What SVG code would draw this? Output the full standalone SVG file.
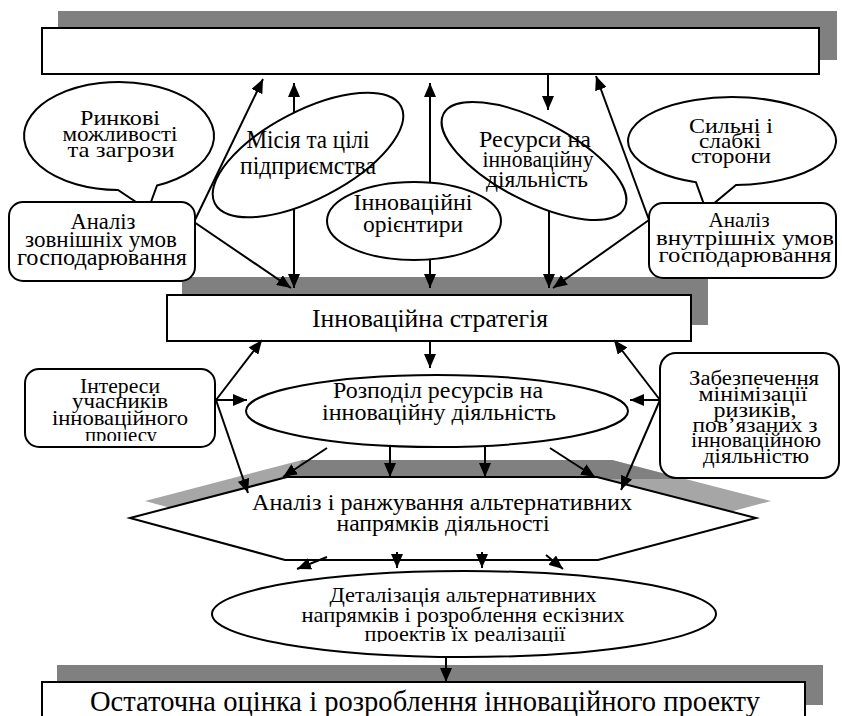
<svg xmlns="http://www.w3.org/2000/svg" width="842" height="716" viewBox="0 0 842 716">
<style>
.box{fill:#fff;stroke:#000;stroke-width:2}
.sh{fill:#808080;stroke:none}
.shl{fill:#a6a6a6;stroke:none}
.t{font-family:"Liberation Serif","DejaVu Serif","Times New Roman",serif;fill:#000;text-anchor:middle}
.c{stroke:#000;stroke-width:2;fill:none;marker-end:url(#ah)}
</style>
<defs>
<marker id="ah" markerUnits="userSpaceOnUse" viewBox="0 0 14 12" refX="14" refY="6" markerWidth="14" markerHeight="12" orient="auto"><path d="M0,0 L14,6 L0,12 z" fill="#000"/></marker>
<clipPath id="clipI"><rect x="0" y="350" width="300" height="91"/></clipPath>
<clipPath id="clipD"><rect x="200" y="570" width="530" height="72"/></clipPath>
</defs>

<g id="n-top">
<rect class="sh" x="58" y="11" width="779" height="49"/>
<rect class="box" x="42" y="28" width="777" height="46"/>
</g>
<g id="n-strat">
<rect class="sh" x="182" y="277" width="526" height="48"/>
<rect class="box" x="167" y="295" width="524" height="46"/>
<text class="t" x="430" y="327" font-size="25" textLength="236" lengthAdjust="spacingAndGlyphs">Інноваційна стратегія</text>
</g>
<g id="n-analiz">
<polygon class="shl" points="145,501 302,460 612,460 771,501 613,543 300,543"/>
<polygon class="sh" points="302,460 612,460 684,479 290,479"/>
<polygon class="box" points="130,518 287,477 597,477 756,518 598,560 285,560"/>
<text class="t" font-size="24" lengthAdjust="spacingAndGlyphs"><tspan x="442" y="510" textLength="380" lengthAdjust="spacingAndGlyphs">Аналіз і ранжування альтернативних</tspan><tspan x="443" y="531" textLength="213" lengthAdjust="spacingAndGlyphs">напрямків діяльності</tspan></text>
</g>
<g id="n-final">
<rect class="sh" x="57" y="665" width="766" height="40"/>
<rect class="box" x="42" y="682" width="763" height="50"/>
<text class="t" x="425" y="711" font-size="29" textLength="670" lengthAdjust="spacingAndGlyphs">Остаточна оцінка і розроблення інноваційного проекту</text>
</g>

<g id="connectors">
<path class="c" d="M194,222 L263,79"/>
<path class="c" d="M194,222 L291,288"/>
<path class="c" d="M294,155 L294,83"/>
<path class="c" d="M294,155 L294,288"/>
<path class="c" d="M430,221 L430,83"/>
<path class="c" d="M430,221 L430,288"/>
<path class="c" d="M548,75 L548,110"/>
<path class="c" d="M549,161 L549,288"/>
<path class="c" d="M649,220 L596,76"/>
<path class="c" d="M649,220 L553,288"/>
<path class="c" d="M430,342 L430,368"/>
<path class="c" d="M216,400 L262,340"/>
<path class="c" d="M216,400 L247,400"/>
<path class="c" d="M216,400 L248,493"/>
<path class="c" d="M660,400 L614,340"/>
<path class="c" d="M660,400 L630,400"/>
<path class="c" d="M660,400 L621,490"/>
<path class="c" d="M327,448 L283,477"/>
<path class="c" d="M390,447 L390,477"/>
<path class="c" d="M485,447 L485,477"/>
<path class="c" d="M550,448 L595,477"/>
<path class="c" d="M327,557 L297,569"/>
<path class="c" d="M397,552 L397,568"/>
<path class="c" d="M482,552 L482,568"/>
<path class="c" d="M546,555 L563,569"/>
<path class="c" d="M446,657 L446,682"/>
</g>

<g id="n-rynkovi">
<path class="box" d="M118,190 A95,54 0 1 1 157,185.5 L148,210 Z"/>
<text class="t" font-size="22"><tspan x="120" y="125" textLength="80" lengthAdjust="spacingAndGlyphs">Ринкові</tspan><tspan x="120" y="141" textLength="115" lengthAdjust="spacingAndGlyphs">можливості</tspan><tspan x="121" y="157" textLength="107" lengthAdjust="spacingAndGlyphs">та загрози</tspan></text>
</g>
<g id="n-zovn">
<rect class="box" x="9" y="202" width="186" height="79" rx="14"/>
<text class="t" font-size="23"><tspan x="103" y="229" textLength="65" lengthAdjust="spacingAndGlyphs">Аналіз</tspan><tspan x="101" y="247" textLength="152" lengthAdjust="spacingAndGlyphs">зовнішніх умов</tspan><tspan x="102" y="265" textLength="170" lengthAdjust="spacingAndGlyphs">господарювання</tspan></text>
</g>
<g id="n-misia">
<ellipse class="box" cx="308" cy="155" rx="105" ry="44" transform="rotate(-27.5 308 155)"/>
<text class="t" font-size="25"><tspan x="308" y="148" textLength="123" lengthAdjust="spacingAndGlyphs">Місія та цілі</tspan><tspan x="308" y="174" textLength="136" lengthAdjust="spacingAndGlyphs">підприємства</tspan></text>
</g>
<g id="n-resursy">
<ellipse class="box" cx="534" cy="161" rx="102" ry="40" transform="rotate(27.5 534 161)"/>
<text class="t" font-size="23"><tspan x="535" y="147" textLength="112" lengthAdjust="spacingAndGlyphs">Ресурси на</tspan><tspan x="538" y="167" textLength="111" lengthAdjust="spacingAndGlyphs">інноваційну</tspan><tspan x="537" y="187" textLength="102" lengthAdjust="spacingAndGlyphs">діяльність</tspan></text>
</g>
<g id="n-orient">
<ellipse class="box" cx="414" cy="221" rx="87" ry="39"/>
<text class="t" font-size="24"><tspan x="413" y="210" textLength="119" lengthAdjust="spacingAndGlyphs">Інноваційні</tspan><tspan x="413" y="232" textLength="100" lengthAdjust="spacingAndGlyphs">орієнтири</tspan></text>
</g>
<g id="n-sylni">
<path class="box" d="M696,182.3 A104,44 0 1 1 736,185 L706,210 Z"/>
<text class="t" font-size="21"><tspan x="731" y="133" textLength="84" lengthAdjust="spacingAndGlyphs">Сильні і</tspan><tspan x="730" y="148" textLength="62" lengthAdjust="spacingAndGlyphs">слабкі</tspan><tspan x="731" y="163" textLength="80" lengthAdjust="spacingAndGlyphs">сторони</tspan></text>
</g>
<g id="n-vnutr">
<rect class="box" x="649" y="203" width="187" height="75" rx="14"/>
<text class="t" font-size="22"><tspan x="739" y="227" textLength="61" lengthAdjust="spacingAndGlyphs">Аналіз</tspan><tspan x="745" y="245" textLength="178" lengthAdjust="spacingAndGlyphs">внутрішніх умов</tspan><tspan x="745" y="262" textLength="173" lengthAdjust="spacingAndGlyphs">господарювання</tspan></text>
</g>
<g id="n-interesy">
<rect class="box" x="25" y="369" width="190" height="78" rx="14"/>
<g clip-path="url(#clipI)">
<text class="t" font-size="21"><tspan x="120" y="393" textLength="80" lengthAdjust="spacingAndGlyphs">Інтереси</tspan><tspan x="120" y="408" textLength="96" lengthAdjust="spacingAndGlyphs">учасників</tspan><tspan x="120" y="425" textLength="136" lengthAdjust="spacingAndGlyphs">інноваційного</tspan><tspan x="121" y="442" textLength="72" lengthAdjust="spacingAndGlyphs">процесу</tspan></text>
</g>
</g>
<g id="n-rozpodil">
<ellipse class="box" cx="437" cy="411" rx="191" ry="36"/>
<text class="t" font-size="24"><tspan x="438" y="398" textLength="210" lengthAdjust="spacingAndGlyphs">Розподіл ресурсів на</tspan><tspan x="439" y="420" textLength="234" lengthAdjust="spacingAndGlyphs">інноваційну діяльність</tspan></text>
</g>
<g id="n-zabezp">
<rect class="box" x="660" y="353" width="179" height="125" rx="16"/>
<text class="t" font-size="20"><tspan x="754" y="385" textLength="130" lengthAdjust="spacingAndGlyphs">Забезпечення</tspan><tspan x="753" y="401" textLength="109" lengthAdjust="spacingAndGlyphs">мінімізації</tspan><tspan x="755" y="417" textLength="83" lengthAdjust="spacingAndGlyphs">ризиків,</tspan><tspan x="755" y="432" textLength="125" lengthAdjust="spacingAndGlyphs">пов’язаних з</tspan><tspan x="756" y="447" textLength="130" lengthAdjust="spacingAndGlyphs">інноваційною</tspan><tspan x="756" y="463" textLength="106" lengthAdjust="spacingAndGlyphs">діяльністю</tspan></text>
</g>
<g id="n-detal">
<ellipse class="box" cx="464" cy="614" rx="252" ry="43"/>
<g clip-path="url(#clipD)">
<text class="t" font-size="22"><tspan x="463" y="602" textLength="267" lengthAdjust="spacingAndGlyphs">Деталізація альтернативних</tspan><tspan x="463" y="622" textLength="323" lengthAdjust="spacingAndGlyphs">напрямків і розроблення ескізних</tspan><tspan x="465" y="641" textLength="201" lengthAdjust="spacingAndGlyphs">проектів їх реалізації</tspan></text>
</g>
</g>
</svg>
